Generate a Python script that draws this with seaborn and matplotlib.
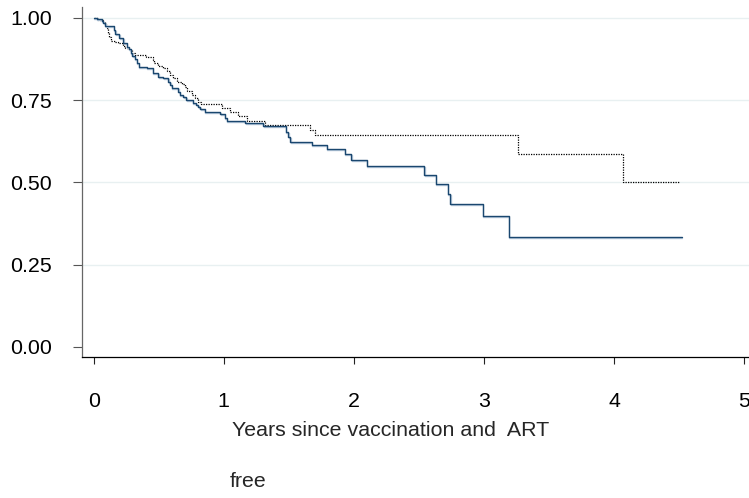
import matplotlib
matplotlib.use("Agg")
import matplotlib.pyplot as plt
import matplotlib.transforms as mtransforms
import seaborn as sns
import pandas as pd

# ---- data ----
solid_t = [0.0, 0.023, 0.06, 0.074, 0.087, 0.155, 0.164, 0.197, 0.228, 0.254,
           0.271, 0.284, 0.297, 0.317, 0.33, 0.346, 0.407, 0.453, 0.497, 0.535,
           0.573, 0.587, 0.6, 0.65, 0.663, 0.689, 0.712, 0.76, 0.79, 0.804,
           0.82, 0.855, 0.971, 1.009, 1.022, 1.163, 1.304, 1.478, 1.496, 1.509,
           1.676, 1.79, 1.93, 1.98, 2.10, 2.54, 2.63, 2.72, 2.74, 2.99,
           3.19, 4.52]
solid_s = [1.0, 0.996, 0.992, 0.986, 0.976, 0.963, 0.951, 0.938, 0.923, 0.913,
           0.905, 0.895, 0.884, 0.874, 0.862, 0.852, 0.847, 0.832, 0.822, 0.817,
           0.806, 0.796, 0.786, 0.776, 0.766, 0.759, 0.751, 0.743, 0.736, 0.729,
           0.722, 0.715, 0.708, 0.695, 0.688, 0.680, 0.672, 0.654, 0.639, 0.624,
           0.614, 0.601, 0.586, 0.568, 0.551, 0.523, 0.495, 0.464, 0.436, 0.399,
           0.334, 0.334]

dotted_t = [0.0, 0.036, 0.069, 0.087, 0.095, 0.107, 0.12, 0.133, 0.164, 0.189,
            0.228, 0.24, 0.274, 0.292, 0.317, 0.402, 0.453, 0.464, 0.497, 0.535,
            0.561, 0.587, 0.612, 0.643, 0.676, 0.702, 0.72, 0.753, 0.779, 0.804,
            0.825, 0.984, 1.048, 1.111, 1.176, 1.317, 1.66, 1.70, 3.26, 4.07,
            4.51]
dotted_s = [1.0, 0.994, 0.989, 0.982, 0.969, 0.953, 0.943, 0.931, 0.928, 0.923,
            0.915, 0.908, 0.903, 0.893, 0.888, 0.880, 0.872, 0.862, 0.854, 0.847,
            0.840, 0.827, 0.817, 0.806, 0.799, 0.789, 0.779, 0.766, 0.756, 0.746,
            0.739, 0.726, 0.715, 0.702, 0.688, 0.676, 0.660, 0.644, 0.587, 0.502,
            0.502]

y_ticks = [0.0, 0.25, 0.5, 0.75, 1.0]
y_ticklabels = ["0.00", "0.25", "0.50", "0.75", "1.00"]
x_ticks = [0, 1, 2, 3, 4, 5]
x_label = "Years since vaccination and  ART"
x_label2 = "free"

# ---- styling ----
sns.set_theme(style="white")
plt.rcParams["font.family"] = ["Liberation Sans", "DejaVu Sans"]
FS = 15.4

fig = plt.figure(figsize=(7.49, 4.98), dpi=100)
ax = fig.add_axes([82 / 749, 1 - 357 / 498, 1 - 82 / 749, (357 - 7) / 498])

df_solid = pd.DataFrame({"t": solid_t, "s": solid_s})
df_dot = pd.DataFrame({"t": dotted_t, "s": dotted_s})

for yv in y_ticks[1:]:
    ax.axhline(yv, color="#e8f0f1", lw=1.0, zorder=0)

sns.lineplot(data=df_dot, x="t", y="s", ax=ax, estimator=None, sort=False,
             drawstyle="steps-post", color="black", lw=0.9,
             linestyle=(0, (1, 1)))
# faint halo under the solid curve (as in the reference rendering)
halo = mtransforms.offset_copy(ax.transData, fig=fig, x=0.5, y=-1.0, units="dots")
sns.lineplot(data=df_solid, x="t", y="s", ax=ax, estimator=None, sort=False,
             drawstyle="steps-post", color="#b9cadc", lw=1.0, transform=halo)
sns.lineplot(data=df_solid, x="t", y="s", ax=ax, estimator=None, sort=False,
             drawstyle="steps-post", color="#1a476f", lw=1.0)

ax.set_xlim(-0.09, 5.037)
ax.set_ylim(-0.0304, 1.0334)

ax.set_yticks(y_ticks)
ax.set_yticklabels(y_ticklabels)
ax.set_xticks(x_ticks)
ax.set_xticklabels([str(v) for v in x_ticks])

ax.tick_params(axis="y", which="major", left=True, length=6.5, width=0.8,
               color="#555555", pad=15, labelsize=FS, labelcolor="black")
ax.tick_params(axis="x", which="major", bottom=True, length=5, width=0.8,
               color="#222222", pad=20, labelsize=FS, labelcolor="black")

for side in ["top", "right"]:
    ax.spines[side].set_visible(False)
ax.spines["left"].set_color("#666666")
ax.spines["left"].set_linewidth(0.9)
ax.spines["bottom"].set_color("black")
ax.spines["bottom"].set_linewidth(0.9)

ax.set_ylabel("")
ax.set_xlabel(x_label, fontsize=FS, ha="left", va="baseline")
ax.xaxis.set_label_coords((231.7 - 82) / 667, (357 - 435.6) / 350)
ax.text((230 - 82) / 667, (357 - 486.7) / 350, x_label2, transform=ax.transAxes,
        fontsize=FS, ha="left", va="baseline")

fig.savefig("out.png", dpi=100)
